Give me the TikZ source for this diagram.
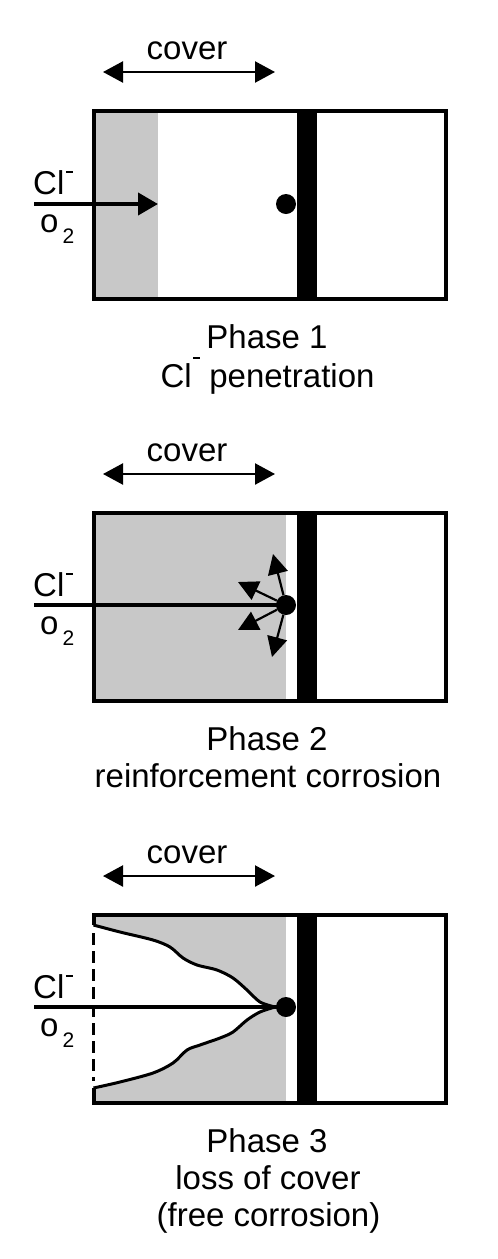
\documentclass[tikz,border=0pt]{standalone}
\usepackage{fontspec}
\setmainfont{Liberation Sans}
\usetikzlibrary{arrows.meta}
\definecolor{conc}{RGB}{200,200,200}
\newcommand\supdash[1]{\hspace{1.5pt}\rule[#1]{7pt}{2.5pt}}
\newcommand\otwo{o\hspace{4pt}\raisebox{-11pt}{\fontsize{21}{21}\selectfont 2}}
\begin{document}
\begin{tikzpicture}[x=1pt,y=-1pt,
  txt/.style={inner sep=0pt,anchor=base,font=\fontsize{33}{38}\selectfont},
  lbl/.style={txt,anchor=base west},
  border/.style={line width=4pt},
  barfill/.style={fill=black},
  dotnode/.style={circle,fill=black,inner sep=0pt,minimum size=20pt},
  mainarrow/.style={line width=4pt,-{Triangle[length=20pt,width=22pt]}},
  mainline/.style={line width=4pt},
  coverarrow/.style={line width=2.3pt,{Triangle[length=20pt,width=21pt]}-{Triangle[length=20pt,width=21pt]}},
  smallarrow/.style={line width=2.2pt,-{Triangle[length=20pt,width=20pt]}},
  profile/.style={line width=3pt,line join=round},
  dashline/.style={line width=2.5pt,dash pattern=on 12pt off 6pt}]
\useasboundingbox (0,0) rectangle (498,1259);

% ---------------- Phase 1 ----------------
\begin{scope}
\fill[conc] (95.5,112.5) rectangle (158,296.5);
\fill[barfill] (297,112.5) rectangle (317,296.5);
\draw[border] (93.5,110.5) rectangle (446,298.5);
\node[dotnode] (dot1) at (286,204) {};
\coordinate (in1) at (34,204);
\coordinate (front1) at (158,204);
\draw[mainarrow] (in1) -- (front1);
\coordinate (cvL1) at (103,72);
\coordinate (cvR1) at (275,72);
\draw[coverarrow] (cvL1) -- (cvR1);
\node[txt] (cover1) at (187,59) {cover};
\node[lbl] (cl1) at (33,194) {Cl\supdash{21pt}};
\node[lbl] (ox1) at (40,232) {\otwo};
\node[txt] (ph1) at (267,348) {Phase 1};
\node[txt] (ph1b) at (267.5,387) {Cl\supdash{28pt}\ penetration};
\end{scope}

% ---------------- Phase 2 ----------------
\begin{scope}[yshift=-402pt]
\fill[conc] (95.5,112.5) rectangle (286,296.5);
\fill[barfill] (297,112.5) rectangle (317,296.5);
\draw[border] (93.5,110.5) rectangle (446,298.5);
\node[dotnode] (dot2) at (286,203) {};
\coordinate (in2) at (34,203);
\draw[mainline] (in2) -- (dot2.center);
\coordinate (a2) at (273,152);
\coordinate (b2) at (238,180);
\coordinate (c2) at (238,228);
\coordinate (d2) at (272,255);
\draw[smallarrow] (dot2) -- (a2);
\draw[smallarrow] (dot2) -- (b2);
\draw[smallarrow] (dot2) -- (c2);
\draw[smallarrow] (dot2) -- (d2);
\coordinate (cvL2) at (103,72);
\coordinate (cvR2) at (275,72);
\draw[coverarrow] (cvL2) -- (cvR2);
\node[txt] (cover2) at (187,59) {cover};
\node[lbl] (cl2) at (33,194) {Cl\supdash{21pt}};
\node[lbl] (ox2) at (40,232) {\otwo};
\node[txt] (ph2) at (267,348) {Phase 2};
\node[txt] (ph2b) at (268,385) {reinforcement corrosion};
\end{scope}

% ---------------- Phase 3 ----------------
\begin{scope}[yshift=-804pt]
\fill[conc] (95.5,112.5) rectangle (286,296.5);
\fill[white] plot[smooth,tension=0.5] coordinates {(93.5,121) (120,128) (153,136) (170,143) (183,154) (197,161) (217,166) (233,174) (247,186) (260,198) (275,203)}
  -- plot[smooth,tension=0.5] coordinates {(275,203) (260,208) (247,216) (233,228) (220,234) (200,241) (187,246) (173,259) (153,269) (120,278) (93.5,284)} -- cycle;
\draw[profile] plot[smooth,tension=0.5] coordinates {(93.5,121) (120,128) (153,136) (170,143) (183,154) (197,161) (217,166) (233,174) (247,186) (260,198) (275,203)};
\draw[profile] plot[smooth,tension=0.5] coordinates {(93.5,284) (120,278) (153,269) (173,259) (187,246) (200,241) (220,234) (233,228) (247,216) (260,208) (275,203)};
\fill[barfill] (297,112.5) rectangle (317,296.5);
\draw[border] (93.5,121) |- (446,110.5) |- (93.5,298.5) -- (93.5,284);
\coordinate (dsT) at (93.5,129);
\coordinate (dsB) at (93.5,277);
\draw[dashline] (dsT) -- (dsB);
\node[dotnode] (dot3) at (286,203) {};
\coordinate (in3) at (34,203);
\draw[mainline] (in3) -- (dot3.center);
\coordinate (cvL3) at (103,72);
\coordinate (cvR3) at (275,72);
\draw[coverarrow] (cvL3) -- (cvR3);
\node[txt] (cover3) at (187,59) {cover};
\node[lbl] (cl3) at (33,194) {Cl\supdash{21pt}};
\node[lbl] (ox3) at (40,232) {\otwo};
\node[txt] (ph3) at (267,348) {Phase 3};
\node[txt] (ph3b) at (268,385) {loss of cover};
\node[txt] (ph3c) at (268.5,422) {(free corrosion)};
\end{scope}
\end{tikzpicture}
\end{document}
